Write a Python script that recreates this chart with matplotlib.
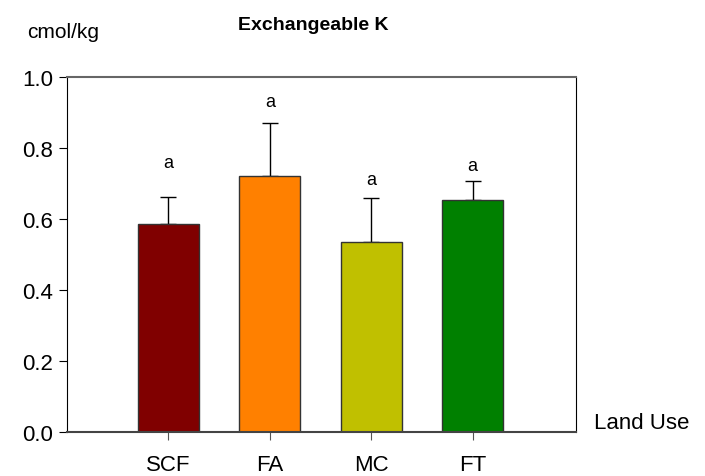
import numpy as np
import matplotlib.pyplot as plt

plt.rcParams['font.family'] = ['Liberation Sans', 'DejaVu Sans']

# 各土地利用类型的交换性钾
land_use = ['SCF', 'FA', 'MC', 'FT']
k_mean = [0.586, 0.721, 0.534, 0.654]
k_err = [0.075, 0.149, 0.124, 0.052]
letters = ['a', 'a', 'a', 'a']
letter_y = [0.76, 0.93, 0.71, 0.75]
colors = ['#800000', '#ff8000', '#c0c000', '#008000']

fig = plt.figure(figsize=(7.05, 4.77), dpi=100)
ax = fig.add_axes([67 / 705, 1 - 433 / 477, 509 / 705, 355 / 477])

x = np.arange(len(land_use))
ax.bar(x, k_mean, width=0.6, color=colors, edgecolor='#333333', linewidth=1.0, zorder=2)
# 只画向上的误差线
ax.errorbar(x, k_mean, yerr=[np.zeros(len(k_err)), k_err], fmt='none',
            ecolor='black', elinewidth=1.0, capsize=6, capthick=1.0, zorder=1)
for xi, yi, t in zip(x, letter_y, letters):
    ax.text(xi, yi, t, ha='center', va='center', fontsize=13)

ax.set_xlim(-1, 4.02)
ax.set_ylim(0, 1.0)
ax.set_yticks(np.arange(0, 1.01, 0.2))
ax.set_yticklabels(['0.0', '0.2', '0.4', '0.6', '0.8', '1.0'])
ax.set_xticks(x)
ax.set_xticklabels(land_use)
ax.tick_params(axis='y', direction='out', length=6, labelsize=16, pad=4)
ax.tick_params(axis='x', direction='out', length=6, labelsize=16, pad=10,
               color='#555555')
ax.spines['top'].set_color('#666666')
ax.spines['bottom'].set_color('#444444')
ax.spines['bottom'].set_linewidth(1.5)
ax.spines['top'].set_linewidth(1.5)

fig.text(63 / 705, 1 - 33 / 477, 'cmol/kg', ha='center', va='center', fontsize=15)
fig.text(313 / 705, 1 - 26 / 477, 'Exchangeable K', ha='center', va='center',
         fontsize=14, fontweight='bold')
fig.text(642 / 705, 1 - 424 / 477, 'Land Use', ha='center', va='center', fontsize=16)

fig.savefig('out.png', dpi=100)
